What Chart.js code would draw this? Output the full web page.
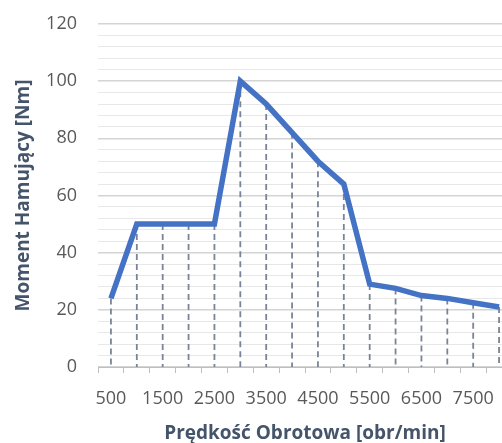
<!DOCTYPE html>
<html>
<head>
<meta charset="utf-8">
<script src="https://cdn.jsdelivr.net/npm/chart.js@4"></script>
<style>
  body { margin: 0; overflow: hidden; background: #fff; }
  #wrap { width: 516px; height: 443px; }
</style>
</head>
<body>
<div id="wrap"><canvas id="myChart"></canvas></div>
<script>
'use strict'

const speeds = ['500','1000','1500','2000','2500','3000','3500','4000','4500','5000','5500','6000','6500','7000','7500','8000'];
const torque = [24, 50, 50, 50, 50, 100, 92, 82, 72, 64, 29, 27.5, 25, 24, 22.5, 21];

const textColor = '#595959';
const titleColor = '#44546a';

// dashed drop lines from each point to the x axis
const dropLines = {
    id: 'dropLines',
    beforeDatasetsDraw(chart) {
        const ctx = chart.ctx;
        const yScale = chart.scales.y;
        const base = yScale.getPixelForValue(0);
        const meta = chart.getDatasetMeta(0);
        ctx.save();
        ctx.strokeStyle = '#7b8496';
        ctx.lineWidth = 1.8;
        ctx.setLineDash([6, 4]);
        meta.data.forEach(pt => {
            ctx.beginPath();
            ctx.moveTo(pt.x, pt.y);
            ctx.lineTo(pt.x, base);
            ctx.stroke();
        });
        ctx.restore();
    }
};

const data = {
    labels: speeds,
    datasets: [{
        label: 'Moment',
        data: torque,
        borderColor: '#4472c4',
        borderWidth: 5.5,
        pointRadius: 0,
        tension: 0,
        borderJoinStyle: 'miter'
    }]
};

const config = {
    type: 'line',
    data: data,
    options: {
        responsive: true,
        maintainAspectRatio: false,
        animation: false,
        layout: { padding: { left: 0, top: 24, right: 4, bottom: 0 } },
        plugins: {
            legend: { display: false },
            tooltip: { enabled: false }
        },
        scales: {
            x: {
                offset: true,
                afterFit: s => { s.height = 76; },
                grid: {
                    offset: true,
                    drawOnChartArea: false,
                    drawTicks: true,
                    tickLength: 6,
                    color: '#bfbfbf'
                },
                border: { color: '#bfbfbf', width: 1 },
                ticks: {
                    autoSkip: false,
                    maxRotation: 0,
                    padding: 15,
                    color: textColor,
                    font: { family: 'Open Sans', size: 18 },
                    callback: (v, i) => i % 2 === 0 ? speeds[i] : ''
                },
                title: {
                    display: true,
                    text: 'Prędkość Obrotowa [obr/min]',
                    color: titleColor,
                    font: { family: 'Open Sans', size: 19, weight: 'bold', lineHeight: 1.0 },
                    padding: { top: 0, bottom: 0 }
                }
            },
            y: {
                min: 0,
                max: 120,
                afterFit: s => {
                    s.width = 98;
                    s.paddingTop = 0;
                    s.paddingBottom = 0;
                },
                ticks: {
                    stepSize: 4,
                    autoSkip: false,
                    padding: 21,
                    color: textColor,
                    font: { family: 'Open Sans', size: 18 },
                    callback: v => v % 20 === 0 ? v : ''
                },
                grid: {
                    drawTicks: false,
                    color: ctx => ctx.tick.value % 20 === 0 ? '#d4d4d4' : '#e8e8e8',
                    lineWidth: ctx => ctx.tick.value % 20 === 0 ? 1.5 : 1
                },
                border: { display: false },
                title: {
                    display: true,
                    text: 'Moment Hamujący [Nm]',
                    color: titleColor,
                    font: { family: 'Open Sans', size: 19, weight: 'bold' },
                    padding: { top: 12, bottom: 0 }
                }
            }
        }
    },
    plugins: [dropLines]
};

const myChart = new Chart(
    document.getElementById('myChart'),
    config
);
</script>
</body>
</html>
